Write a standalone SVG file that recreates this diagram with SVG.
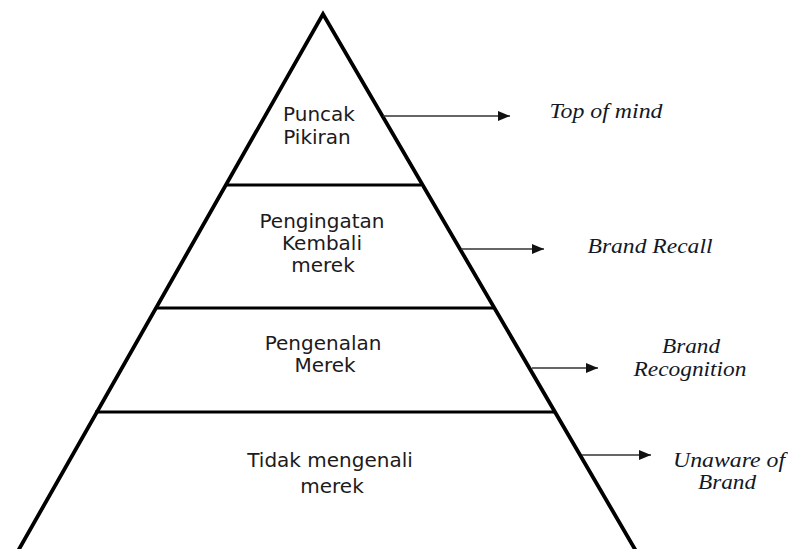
<svg xmlns="http://www.w3.org/2000/svg" width="788" height="549" viewBox="0 0 788 549">
<defs>
<style>
.edge{stroke:#000;stroke-width:3.8;fill:none;stroke-linecap:round}
.div{stroke:#000;stroke-width:3;fill:none}
.lbl{font-family:"DejaVu Sans",Verdana,sans-serif;font-size:20px;fill:#1e1a1a;text-anchor:middle}
.tag{font-family:"Liberation Serif","Times New Roman",serif;font-style:italic;font-size:20px;fill:#111827;text-anchor:middle}
.arr{stroke:#333;stroke-width:1.4;fill:none}
</style>
<marker id="ah" viewBox="0 0 12 10" refX="12" refY="5" markerWidth="12" markerHeight="10" markerUnits="userSpaceOnUse" orient="auto">
<path d="M0,0 L12,5 L0,10 Z" fill="#111"/>
</marker>
</defs>
<rect width="788" height="549" fill="#fff"/>
<g id="pyramid">
<path class="edge" d="M18,551 L323,14 L636,551"/>
<line class="div" x1="226" y1="185" x2="421" y2="185"/>
<line class="div" x1="156" y1="308" x2="493" y2="308"/>
<line class="div" x1="95" y1="412" x2="554" y2="412"/>
</g>
<g id="level1">
<text class="lbl" x="319" y="121">Puncak</text>
<text class="lbl" x="317" y="144">Pikiran</text>
</g>
<g id="level2">
<text class="lbl" x="322" y="228">Pengingatan</text>
<text class="lbl" x="322" y="250">Kembali</text>
<text class="lbl" x="323" y="272">merek</text>
</g>
<g id="level3">
<text class="lbl" x="323" y="350">Pengenalan</text>
<text class="lbl" x="325" y="372">Merek</text>
</g>
<g id="level4">
<text class="lbl" x="330" y="467">Tidak mengenali</text>
<text class="lbl" x="332" y="493">merek</text>
</g>
<g id="connectors">
<line class="arr" x1="383" y1="116" x2="510" y2="116" marker-end="url(#ah)"/>
<line class="arr" x1="461" y1="249" x2="544" y2="249" marker-end="url(#ah)"/>
<line class="arr" x1="532" y1="368" x2="598" y2="368" marker-end="url(#ah)"/>
<line class="arr" x1="582" y1="455" x2="651" y2="455" marker-end="url(#ah)"/>
</g>
<g id="tag1"><text class="tag" x="606" y="118" textLength="113" lengthAdjust="spacingAndGlyphs">Top of mind</text></g>
<g id="tag2"><text class="tag" x="650" y="253" textLength="125" lengthAdjust="spacingAndGlyphs">Brand Recall</text></g>
<g id="tag3">
<text class="tag" x="691" y="353" textLength="58" lengthAdjust="spacingAndGlyphs">Brand</text>
<text class="tag" x="690" y="376" textLength="113" lengthAdjust="spacingAndGlyphs">Recognition</text>
</g>
<g id="tag4">
<text class="tag" x="729" y="467" textLength="112" lengthAdjust="spacingAndGlyphs">Unaware of</text>
<text class="tag" x="727" y="489" textLength="58" lengthAdjust="spacingAndGlyphs">Brand</text>
</g>
</svg>
